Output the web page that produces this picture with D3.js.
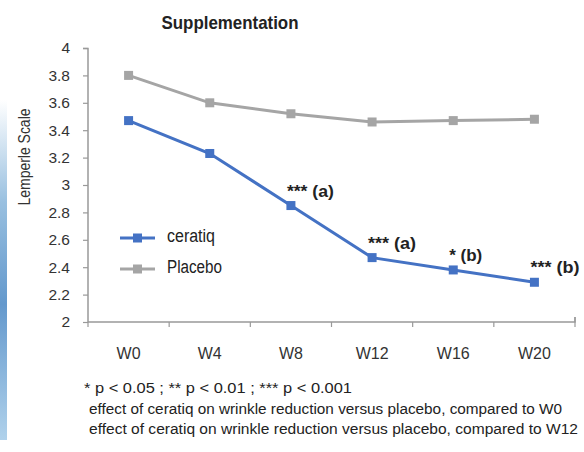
<!DOCTYPE html>
<html><head><meta charset="utf-8">
<script src="https://cdn.jsdelivr.net/npm/d3@7"></script>
<style>body{margin:0;background:#fff}svg{display:block}</style>
</head><body>
<svg id="c" width="584" height="452"></svg>
<script>
const categories = ["W0","W4","W8","W12","W16","W20"];
const ceratiq = [3.47, 3.23, 2.85, 2.47, 2.38, 2.29];
const placebo = [3.80, 3.60, 3.52, 3.46, 3.47, 3.48];
const annotations = ["", "", "*** (a)", "*** (a)", "* (b)", "*** (b)"];
const yTicks = [2,2.2,2.4,2.6,2.8,3,3.2,3.4,3.6,3.8,4];
const footnotes = ["* p < 0.05 ; ** p < 0.01 ; *** p < 0.001",
  "effect of ceratiq on wrinkle reduction versus placebo, compared to W0",
  "effect of ceratiq on wrinkle reduction versus placebo, compared to W12"];

const svg = d3.select("#c");
const font = "'Liberation Sans', Arial, sans-serif";
const blue = "#4472C4", gray = "#A5A5A5";

// decorative blue strip at left edge
const defs = svg.append("defs");
const g0 = defs.append("linearGradient").attr("id","bg").attr("x1",0).attr("x2",0).attr("y1",0).attr("y2",1);
g0.append("stop").attr("offset","0%").attr("stop-color","#ffffff");
g0.append("stop").attr("offset","30%").attr("stop-color","#7fb0d8");
g0.append("stop").attr("offset","60%").attr("stop-color","#3d7fc0");
g0.append("stop").attr("offset","100%").attr("stop-color","#9cc6e6");
svg.append("rect").attr("x",0).attr("y",100).attr("width",7).attr("height",340).attr("fill","url(#bg)").attr("opacity",0.8);

const x = d3.scaleBand().domain(categories).range([88, 575]);
const y = d3.scaleLinear().domain([2,4]).range([322, 48]);

// axes
const yAxis = d3.axisLeft(y).tickValues(yTicks).tickSize(5).tickFormat(d => d3.format("")(+d.toFixed(1)));
const ya = svg.append("g").attr("transform","translate(88,0)").call(yAxis);
ya.select(".domain").attr("stroke","#999").attr("stroke-width",1.5).attr("d","M-5,48.5H0V322");
ya.selectAll(".tick line").attr("stroke","#999").attr("stroke-width",1.2);
ya.selectAll(".tick text").attr("font-family",font).attr("font-size",15.5).attr("fill","#333").attr("x",-18);

const xAxis = d3.axisBottom(x).tickSize(0).tickPadding(0);
const xa = svg.append("g").attr("transform","translate(0,322)").call(xAxis);
xa.select(".domain").attr("stroke","#999").attr("stroke-width",1.5).attr("d","M88,0H575V-5");
xa.selectAll(".tick text").attr("font-family",font).attr("font-size",16).attr("fill","#333").attr("y",26).attr("dy","0.71em");
// boundary tick marks
svg.append("g").selectAll("line").data(categories.slice(1)).join("line")
  .attr("x1",d=>x(d)).attr("x2",d=>x(d)).attr("y1",322).attr("y2",327)
  .attr("stroke","#999").attr("stroke-width",1.2);
svg.append("line").attr("x1",88).attr("x2",88).attr("y1",322).attr("y2",327).attr("stroke","#999").attr("stroke-width",1.2);
svg.append("line").attr("x1",575).attr("x2",575).attr("y1",317).attr("y2",327).attr("stroke","#999").attr("stroke-width",1.2);

const cx = d => x(d) + x.bandwidth()/2;
const line = d3.line().x((d,i)=>cx(categories[i])).y(d=>y(d));

function series(data, color){
  svg.append("path").datum(data).attr("d",line).attr("fill","none").attr("stroke",color).attr("stroke-width",3);
  svg.append("g").selectAll("rect").data(data).join("rect")
    .attr("x",(d,i)=>cx(categories[i])-4.5).attr("y",d=>y(d)-4.5)
    .attr("width",9).attr("height",9).attr("fill",color);
}
series(placebo, gray);
series(ceratiq, blue);

// annotations
const annLen = [0, 0, 47, 48, 33, 49];
svg.append("g").selectAll("text").data(annotations).join("text")
  .attr("x",(d,i)=>cx(categories[i])-4).attr("y",(d,i)=>y(ceratiq[i])-9)
  .attr("font-family",font).attr("font-size",16).attr("font-weight","bold").attr("fill","#222")
  .attr("textLength",(d,i)=>annLen[i] || null).attr("lengthAdjust","spacingAndGlyphs")
  .text(d=>d);

// title
svg.append("text").attr("x",230).attr("y",29).attr("text-anchor","middle")
  .attr("font-family",font).attr("font-size",19).attr("font-weight","bold").attr("fill","#222")
  .attr("textLength",137).attr("lengthAdjust","spacingAndGlyphs").text("Supplementation");

// y label
svg.append("text").attr("transform","translate(30,157) rotate(-90)").attr("text-anchor","middle")
  .attr("font-family",font).attr("font-size",16).attr("fill","#333")
  .attr("textLength",97).attr("lengthAdjust","spacingAndGlyphs").text("Lemperle Scale");

// legend
const leg = [{name:"ceratiq", color:blue, w:48},{name:"Placebo", color:gray, w:55}];
const lg = svg.append("g").selectAll("g").data(leg).join("g").attr("transform",(d,i)=>`translate(120,${238+i*31})`);
lg.append("line").attr("x1",0).attr("x2",35).attr("stroke",d=>d.color).attr("stroke-width",3);
lg.append("rect").attr("x",13).attr("y",-4.5).attr("width",9).attr("height",9).attr("fill",d=>d.color);
lg.append("text").attr("x",47).attr("y",0).attr("dy","0.2em").attr("font-family",font).attr("font-size",18).attr("fill","#222")
  .attr("textLength",d=>d.w).attr("lengthAdjust","spacingAndGlyphs").text(d=>d.name);

// footnotes
const fnLen = [268, 473, 489];
svg.append("g").selectAll("text").data(footnotes).join("text")
  .attr("x",(d,i)=>i===0?84:89).attr("y",(d,i)=>393+i*20.5)
  .attr("font-family",font).attr("font-size",15.5).attr("fill","#222")
  .attr("textLength",(d,i)=>fnLen[i]).attr("lengthAdjust","spacingAndGlyphs").text(d=>d);
</script>
</body></html>
